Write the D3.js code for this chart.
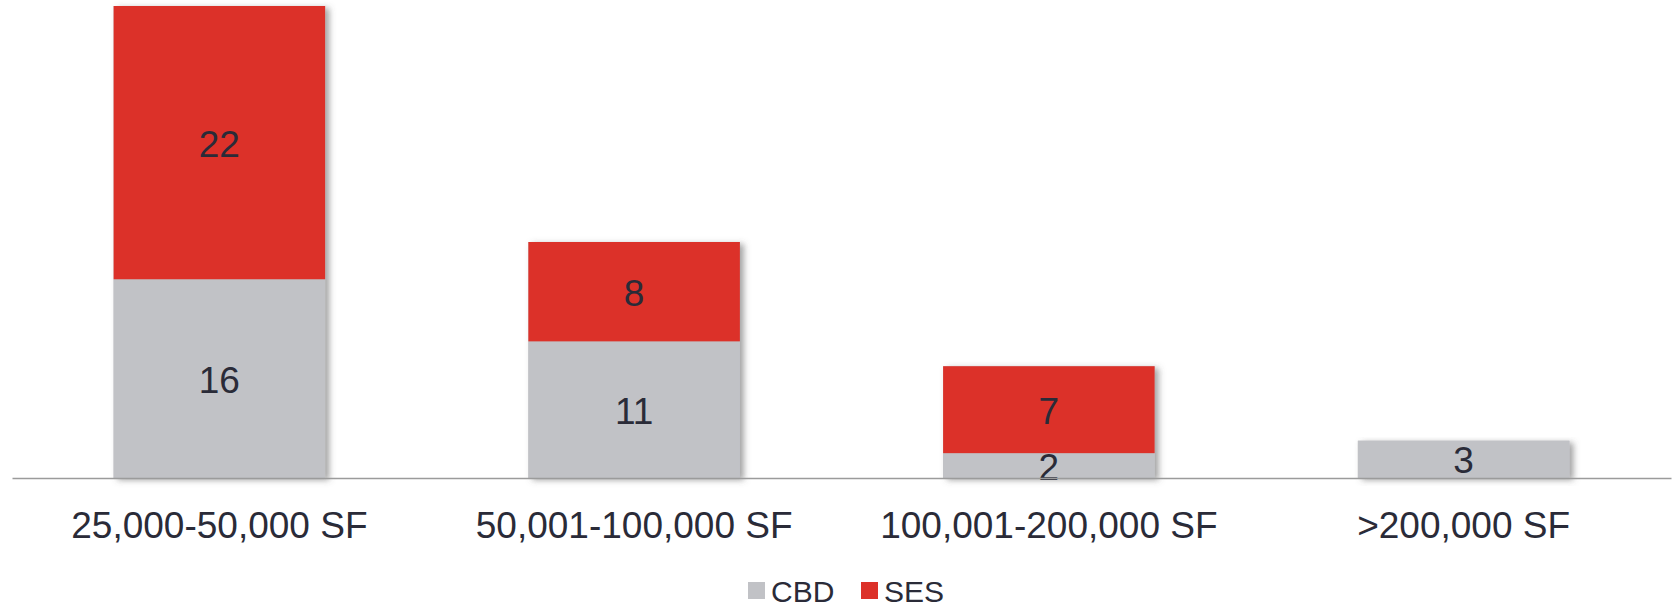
<!DOCTYPE html>
<html>
<head>
<meta charset="utf-8">
<script src="https://cdn.jsdelivr.net/npm/d3@7"></script>
<style>
  html, body { margin: 0; padding: 0; background: #ffffff; }
  svg { display: block; font-family: "Liberation Sans", Arial, sans-serif; }
</style>
</head>
<body>
<svg id="chart" width="1673" height="609"></svg>
<script>
// Number of deals by size band, split by market
const categories = ["25,000-50,000 SF", "50,001-100,000 SF", "100,001-200,000 SF", ">200,000 SF"];
const seriesNames = ["CBD", "SES"];
const cbdValues = [16, 11, 2, 3];
const sesValues = [22, 8, 7, 0];
const seriesColors = ["#c1c2c6", "#dc3129"];

const width = 1673, height = 609;
const margin = { left: 12, right: 2, top: 6, bottom: 131 };

const svg = d3.select("#chart");

// Soft drop shadow behind each bar
const defs = svg.append("defs");
const shadow = defs.append("filter")
  .attr("id", "barShadow")
  .attr("x", "-10%").attr("y", "-10%")
  .attr("width", "130%").attr("height", "130%");
shadow.append("feDropShadow")
  .attr("dx", 4).attr("dy", 2)
  .attr("stdDeviation", 3)
  .attr("flood-color", "#555555")
  .attr("flood-opacity", 0.55);

const rows = categories.map((c, i) => ({ category: c, CBD: cbdValues[i], SES: sesValues[i] }));
const stacked = d3.stack().keys(seriesNames)(rows);

const x = d3.scaleBand()
  .domain(categories)
  .range([margin.left, width - margin.right])
  .paddingInner(0.49)
  .paddingOuter(0.245);

const totalMax = d3.max(rows, d => d.CBD + d.SES);
const y = d3.scaleLinear()
  .domain([0, totalMax])
  .range([height - margin.bottom, margin.top]);

// Whole-bar shadows
svg.append("g")
  .selectAll("rect")
  .data(rows)
  .join("rect")
  .attr("x", d => x(d.category))
  .attr("y", d => y(d.CBD + d.SES))
  .attr("width", x.bandwidth())
  .attr("height", d => y(0) - y(d.CBD + d.SES))
  .attr("fill", "#c1c2c6")
  .attr("filter", "url(#barShadow)");

// Stacked segments
const layers = svg.append("g")
  .selectAll("g")
  .data(stacked)
  .join("g")
  .attr("fill", (d, i) => seriesColors[i]);

layers.selectAll("rect")
  .data(d => d.filter(s => s[1] - s[0] > 0))
  .join("rect")
  .attr("x", d => x(d.data.category))
  .attr("y", d => y(d[1]))
  .attr("width", x.bandwidth())
  .attr("height", d => y(d[0]) - y(d[1]));

// Value labels centred in each segment
svg.append("g")
  .selectAll("g")
  .data(stacked)
  .join("g")
  .selectAll("text")
  .data(d => d.filter(s => s[1] - s[0] > 0))
  .join("text")
  .attr("x", d => x(d.data.category) + x.bandwidth() / 2)
  .attr("y", d => (y(d[0]) + y(d[1])) / 2 + 14)
  .attr("text-anchor", "middle")
  .attr("font-size", 37)
  .attr("fill", "#2a2b38")
  .text(d => d[1] - d[0]);

// Category axis
const xAxis = svg.append("g")
  .attr("transform", `translate(0,${y(0)})`)
  .call(d3.axisBottom(x).tickSize(0).tickPadding(34));
xAxis.select(".domain")
  .attr("stroke", "#9b9b9b")
  .attr("stroke-width", 1.6);
xAxis.selectAll(".tick text")
  .attr("font-size", 37)
  .attr("font-family", "\"Liberation Sans\", Arial, sans-serif")
  .attr("fill", "#2a2b38");

// Legend
const legendItems = [
  { name: "CBD", color: seriesColors[0], x: 748 },
  { name: "SES", color: seriesColors[1], x: 861 }
];
const legend = svg.append("g");
const li = legend.selectAll("g")
  .data(legendItems)
  .join("g")
  .attr("transform", d => `translate(${d.x},582)`);
li.append("rect")
  .attr("width", 17)
  .attr("height", 17)
  .attr("fill", d => d.color);
li.append("text")
  .attr("x", 23)
  .attr("y", 20)
  .attr("font-size", 30)
  .attr("fill", "#2a2b38")
  .text(d => d.name);
</script>
</body>
</html>
